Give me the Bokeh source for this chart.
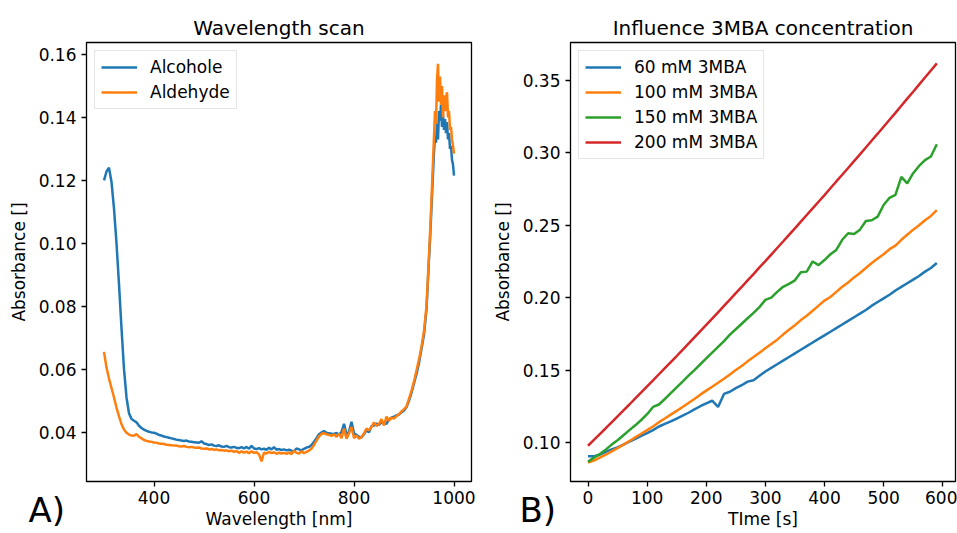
from bokeh.plotting import figure
from bokeh.layouts import row
from bokeh.models import Range1d, FixedTicker, Legend, LegendItem, Title
from bokeh.embed import file_html
from bokeh.resources import INLINE

FONT = "DejaVu Sans"
C_BLUE, C_ORANGE, C_GREEN, C_RED = "#1f77b4", "#ff7f0e", "#2ca02c", "#d62728"

# ---------------- Panel A: wavelength scan ----------------
wavelength = list(range(300, 950, 5)) + list(range(950, 1001, 2))
alcohole = [
    0.1200, 0.1228, 0.1240, 0.1195, 0.1110, 0.1000, 0.0870, 0.0730, 0.0600, 0.0510,
    0.0460, 0.0442, 0.0436, 0.0431, 0.0420, 0.0413, 0.0408, 0.0404, 0.0401, 0.0399,
    0.0398, 0.0395, 0.0391, 0.0389, 0.0386, 0.0384, 0.0382, 0.0380, 0.0378, 0.0376,
    0.0375, 0.0373, 0.0372, 0.0373, 0.0370, 0.0369, 0.0368, 0.0367, 0.0366, 0.0371,
    0.0364, 0.0362, 0.0359, 0.0361, 0.0357, 0.0356, 0.0358, 0.0354, 0.0353, 0.0356,
    0.0352, 0.0351, 0.0353, 0.0350, 0.0349, 0.0352, 0.0348, 0.0353, 0.0347, 0.0356,
    0.0348, 0.0346, 0.0349, 0.0345, 0.0347, 0.0344, 0.0350, 0.0345, 0.0352, 0.0344,
    0.0346, 0.0343, 0.0345, 0.0342, 0.0344, 0.0341, 0.0339, 0.0348, 0.0345, 0.0342,
    0.0347, 0.0351, 0.0353, 0.0359, 0.0369, 0.0381, 0.0393, 0.0399, 0.0403, 0.0398,
    0.0396, 0.0395, 0.0394, 0.0397, 0.0392, 0.0400, 0.0426, 0.0393, 0.0401, 0.0433,
    0.0396, 0.0391, 0.0385, 0.0383, 0.0393, 0.0406, 0.0399, 0.0419, 0.0421, 0.0427,
    0.0423, 0.0431, 0.0429, 0.0426, 0.0441, 0.0446, 0.0449, 0.0453, 0.0456, 0.0463,
    0.0469, 0.0479, 0.0500, 0.0525, 0.0555, 0.0585, 0.0620, 0.0665, 0.0710, 0.0790,
    0.0950, 0.1010, 0.1080, 0.1150, 0.1220, 0.1290, 0.1340, 0.1320, 0.1380, 0.1330,
    0.1420, 0.1390, 0.1440, 0.1370, 0.1410, 0.1360, 0.1395, 0.1350, 0.1385, 0.1330,
    0.1350, 0.1300, 0.1310, 0.1265, 0.1250, 0.1215,
]
aldehyde = [
    0.0655, 0.0605, 0.0570, 0.0540, 0.0510, 0.0478, 0.0450, 0.0425, 0.0408, 0.0398,
    0.0392, 0.0389, 0.0388, 0.0394, 0.0385, 0.0380, 0.0375, 0.0372, 0.0370, 0.0369,
    0.0367, 0.0366, 0.0364, 0.0363, 0.0362, 0.0360, 0.0359, 0.0358, 0.0357, 0.0357,
    0.0355, 0.0354, 0.0356, 0.0353, 0.0352, 0.0353, 0.0351, 0.0350, 0.0351, 0.0348,
    0.0347, 0.0348, 0.0345, 0.0346, 0.0344, 0.0345, 0.0342, 0.0343, 0.0341, 0.0342,
    0.0339, 0.0341, 0.0337, 0.0340, 0.0334, 0.0339, 0.0335, 0.0338, 0.0333, 0.0339,
    0.0334, 0.0336, 0.0329, 0.0307, 0.0335, 0.0332, 0.0337, 0.0333, 0.0336, 0.0331,
    0.0335, 0.0332, 0.0334, 0.0331, 0.0335, 0.0330, 0.0341, 0.0334, 0.0332, 0.0339,
    0.0333, 0.0337, 0.0341, 0.0348, 0.0359, 0.0373, 0.0386, 0.0394, 0.0397, 0.0393,
    0.0391, 0.0388, 0.0393, 0.0385, 0.0395, 0.0381, 0.0411, 0.0379, 0.0396, 0.0416,
    0.0381, 0.0389, 0.0379, 0.0384, 0.0396, 0.0411, 0.0406, 0.0416, 0.0431, 0.0419,
    0.0426, 0.0441, 0.0421, 0.0449, 0.0436, 0.0446, 0.0443, 0.0451, 0.0456, 0.0466,
    0.0473, 0.0481, 0.0506, 0.0531, 0.0561, 0.0596, 0.0631, 0.0671, 0.0721, 0.0801,
    0.0960, 0.1030, 0.1100, 0.1180, 0.1260, 0.1340, 0.1420, 0.1380, 0.1520, 0.1570,
    0.1450, 0.1530, 0.1440, 0.1500, 0.1400, 0.1470, 0.1420, 0.1460, 0.1480, 0.1400,
    0.1420, 0.1360, 0.1370, 0.1330, 0.1310, 0.1285,
]
a_xticks = [400, 600, 800, 1000]
a_yticks = [0.04, 0.06, 0.08, 0.10, 0.12, 0.14, 0.16]
a_ylabels = ["0.04", "0.06", "0.08", "0.10", "0.12", "0.14", "0.16"]

# ---------------- Panel B: 3MBA concentration ----------------
time_s = list(range(0, 600, 10))
mba_60 = [
    0.0905, 0.0905, 0.0915, 0.0935, 0.0952, 0.0965, 0.0985, 0.1005, 0.1025, 0.1045,
    0.1065, 0.1085, 0.1110, 0.1128, 0.1145, 0.1165, 0.1185, 0.1205, 0.1228, 0.1250,
    0.1270, 0.1288, 0.1245, 0.1335, 0.1350, 0.1375, 0.1395, 0.1420, 0.1430, 0.1460,
    0.1490, 0.1515, 0.1540, 0.1565, 0.1590, 0.1615, 0.1640, 0.1665, 0.1690, 0.1715,
    0.1740, 0.1765, 0.1790, 0.1815, 0.1840, 0.1865, 0.1890, 0.1915, 0.1945, 0.1970,
    0.1995, 0.2020, 0.2050, 0.2075, 0.2100, 0.2125, 0.2150, 0.2180, 0.2205, 0.2240,
]
mba_100 = [
    0.0860, 0.0875, 0.0895, 0.0915, 0.0938, 0.0960, 0.0985, 0.1010, 0.1035, 0.1060,
    0.1085, 0.1110, 0.1140, 0.1165, 0.1192, 0.1218, 0.1245, 0.1272, 0.1300, 0.1330,
    0.1358, 0.1385, 0.1412, 0.1440, 0.1470, 0.1500, 0.1528, 0.1560, 0.1590, 0.1620,
    0.1650, 0.1680, 0.1710, 0.1745, 0.1778, 0.1810, 0.1845, 0.1875, 0.1910, 0.1945,
    0.1980, 0.2005, 0.2040, 0.2075, 0.2105, 0.2140, 0.2170, 0.2205, 0.2240, 0.2270,
    0.2300, 0.2335, 0.2360, 0.2400, 0.2435, 0.2470, 0.2500, 0.2535, 0.2565, 0.2605,
]
mba_150 = [
    0.0866, 0.0895, 0.0920, 0.0950, 0.0985, 0.1015, 0.1050, 0.1085, 0.1118, 0.1155,
    0.1195, 0.1245, 0.1262, 0.1300, 0.1340, 0.1380, 0.1420, 0.1462, 0.1500, 0.1540,
    0.1580, 0.1620, 0.1660, 0.1700, 0.1745, 0.1782, 0.1820, 0.1858, 0.1895, 0.1935,
    0.1985, 0.2000, 0.2040, 0.2075, 0.2095, 0.2120, 0.2175, 0.2180, 0.2250, 0.2225,
    0.2260, 0.2300, 0.2330, 0.2400, 0.2445, 0.2440, 0.2470, 0.2530, 0.2535, 0.2560,
    0.2640, 0.2690, 0.2710, 0.2835, 0.2790, 0.2860, 0.2910, 0.2950, 0.2975, 0.3060,
]
mba_200 = [
    0.0977, 0.1017, 0.1058, 0.1098, 0.1139, 0.1180, 0.1221, 0.1262, 0.1304, 0.1345,
    0.1387, 0.1428, 0.1471, 0.1513, 0.1555, 0.1597, 0.1640, 0.1683, 0.1726, 0.1769,
    0.1812, 0.1855, 0.1899, 0.1943, 0.1987, 0.2031, 0.2075, 0.2119, 0.2163, 0.2209,
    0.2253, 0.2298, 0.2343, 0.2388, 0.2434, 0.2479, 0.2525, 0.2571, 0.2617, 0.2663,
    0.2709, 0.2756, 0.2803, 0.2849, 0.2896, 0.2943, 0.2990, 0.3038, 0.3086, 0.3133,
    0.3181, 0.3229, 0.3277, 0.3326, 0.3375, 0.3423, 0.3472, 0.3521, 0.3570, 0.3619,
]
b_xticks = [0, 100, 200, 300, 400, 500, 600]
b_yticks = [0.10, 0.15, 0.20, 0.25, 0.30, 0.35]
b_ylabels = ["0.10", "0.15", "0.20", "0.25", "0.30", "0.35"]


def make_fig(title, width, bl, br, xr, yr):
    p = figure(width=width, height=533, x_range=Range1d(*xr), y_range=Range1d(*yr),
               output_backend="svg", toolbar_location=None,
               min_border_left=bl, min_border_right=br, min_border_top=42,
               min_border_bottom=52, title=title)
    p.title.text_font = FONT
    p.title.text_font_size = "20px"
    p.title.text_font_style = "normal"
    p.title.text_color = "black"
    p.title.align = "center"
    p.title.standoff = 5
    p.xgrid.visible = False
    p.ygrid.visible = False
    p.outline_line_color = "black"
    p.outline_line_width = 1.3
    p.outline_line_alpha = 1.0
    p.background_fill_color = "white"
    p.border_fill_color = "white"
    for ax in (p.xaxis[0], p.yaxis[0]):
        ax.axis_line_color = None
        ax.major_tick_in = 0
        ax.major_tick_out = 5
        ax.major_tick_line_width = 1.3
        ax.major_tick_line_color = "black"
        ax.minor_tick_line_color = None
        ax.major_label_text_font = FONT
        ax.major_label_text_font_size = "17px"
        ax.major_label_text_color = "black"
        ax.axis_label_text_font = FONT
        ax.axis_label_text_font_size = "17px"
        ax.axis_label_text_font_style = "normal"
        ax.axis_label_text_color = "black"
    p.xaxis[0].major_label_standoff = 4
    p.xaxis[0].axis_label_standoff = 2
    p.yaxis[0].major_label_standoff = 5
    p.yaxis[0].axis_label_standoff = 7
    return p


def style_legend(p, items):
    leg = Legend(items=items, location="top_left")
    leg.label_text_font = FONT
    leg.label_text_font_size = "17px"
    leg.label_text_color = "black"
    leg.glyph_width = 36
    leg.glyph_height = 20
    leg.label_height = 20
    leg.label_standoff = 13
    leg.padding = 6
    leg.spacing = 5
    leg.margin = 8
    leg.border_line_color = "#cccccc"
    leg.border_line_width = 1.3
    leg.background_fill_alpha = 0.8
    p.add_layout(leg)


def panel_letter(p, text, offset):
    t = Title(text=text, align="left", offset=offset, standoff=-96,
              text_font=FONT, text_font_size="34px", text_font_style="normal",
              text_color="black")
    # place the letter panel next to the frame so that it takes no room
    p.below = [t] + list(p.below)


# Panel A
pa = make_fig("Wavelength scan", 478, 86, 7, (265, 1035), (0.0243, 0.1638))
ra = pa.line(wavelength, alcohole, line_color=C_BLUE, line_width=2.5)
rb = pa.line(wavelength, aldehyde, line_color=C_ORANGE, line_width=2.5)
pa.xaxis[0].ticker = FixedTicker(ticks=a_xticks)
pa.yaxis[0].ticker = FixedTicker(ticks=a_yticks)
pa.yaxis[0].major_label_overrides = {t: s for t, s in zip(a_yticks, a_ylabels)}
pa.xaxis[0].axis_label = "Wavelength [nm]"
pa.yaxis[0].axis_label = "Absorbance []"
style_legend(pa, [LegendItem(label="Alcohole", renderers=[ra]),
                  LegendItem(label="Aldehyde", renderers=[rb])])
panel_letter(pa, "A)", -58)

# Panel B
pb = make_fig("Influence 3MBA concentration", 479, 92, 2, (-29.6, 621.6), (0.0730, 0.3763))
r1 = pb.line(time_s, mba_60, line_color=C_BLUE, line_width=2.5)
r2 = pb.line(time_s, mba_100, line_color=C_ORANGE, line_width=2.5)
r3 = pb.line(time_s, mba_150, line_color=C_GREEN, line_width=2.5)
r4 = pb.line(time_s, mba_200, line_color=C_RED, line_width=2.5)
pb.xaxis[0].ticker = FixedTicker(ticks=b_xticks)
pb.yaxis[0].ticker = FixedTicker(ticks=b_yticks)
pb.yaxis[0].major_label_overrides = {t: s for t, s in zip(b_yticks, b_ylabels)}
pb.xaxis[0].axis_label = "TIme [s]"
pb.yaxis[0].axis_label = "Absorbance []"
style_legend(pb, [LegendItem(label="60 mM 3MBA", renderers=[r1]),
                  LegendItem(label="100 mM 3MBA", renderers=[r2]),
                  LegendItem(label="150 mM 3MBA", renderers=[r3]),
                  LegendItem(label="200 mM 3MBA", renderers=[r4])])
panel_letter(pb, "B)", -51)

layout = row(pa, pb)
open("out.html", "w").write(file_html(layout, INLINE))
